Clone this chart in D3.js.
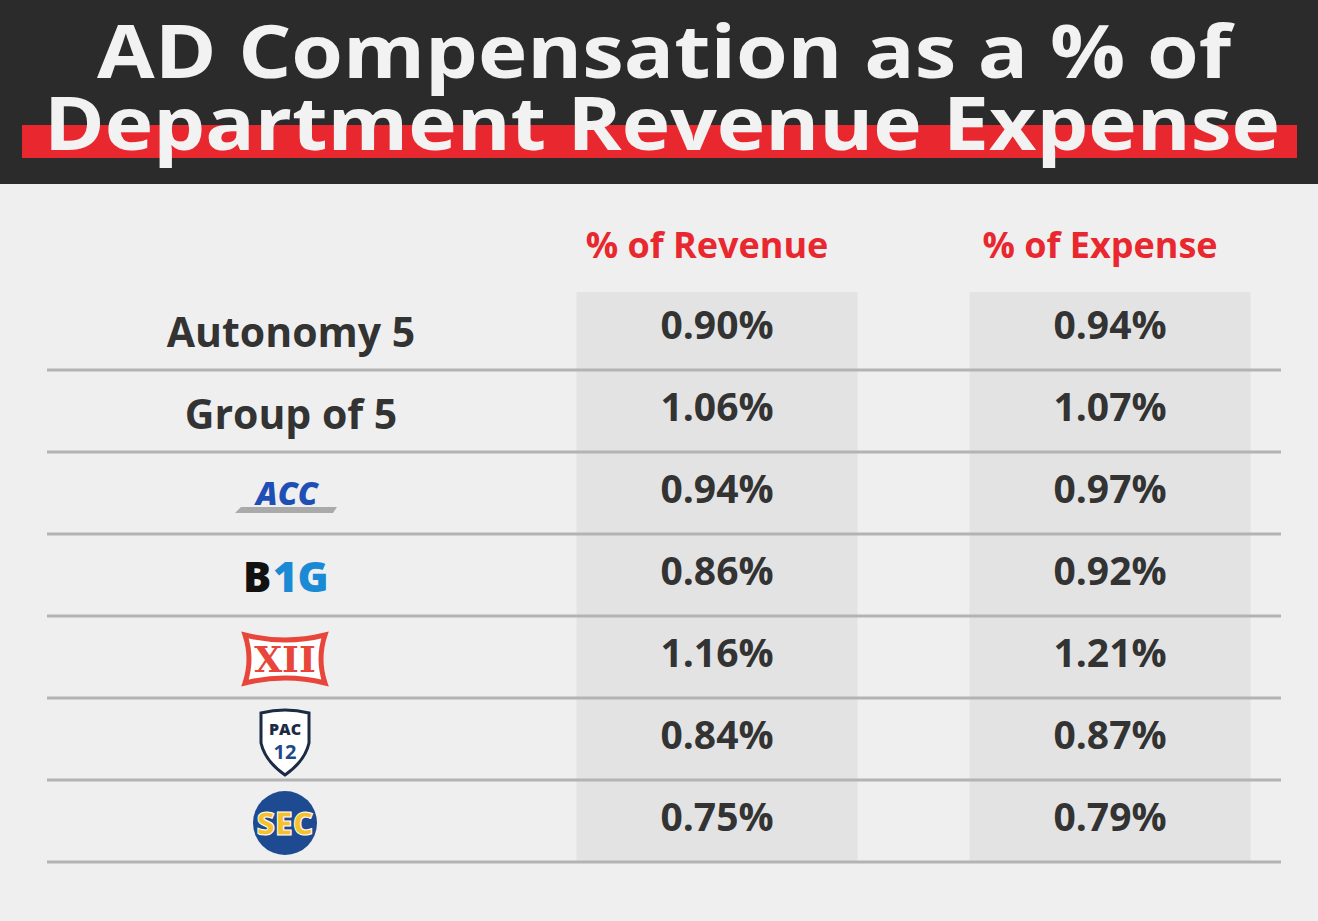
<!DOCTYPE html><html><head><meta charset="utf-8">
<script src="https://cdn.jsdelivr.net/npm/d3@7"></script>
<style>body{margin:0;background:#efefef} text{font-variant-ligatures:none}</style></head><body>
<script>
const titleLines = ["AD Compensation as a % of", "Department Revenue Expense"];
const columns = ["% of Revenue", "% of Expense"];
const categories = ["Autonomy 5", "Group of 5", "ACC", "B1G", "XII", "PAC12", "SEC"];
const revenue = [0.90, 1.06, 0.94, 0.86, 1.16, 0.84, 0.75];
const expense = [0.94, 1.07, 0.97, 0.92, 1.21, 0.87, 0.79];

const W = 1318, H = 921;
const svg = d3.select("body").append("svg").attr("width", W).attr("height", H);
svg.append("rect").attr("width", W).attr("height", H).attr("fill", "#efefef");
svg.append("rect").attr("width", W).attr("height", 184).attr("fill", "#2b2b2b");
svg.append("rect").attr("x", 22).attr("y", 125).attr("width", 1275).attr("height", 33).attr("fill", "#e8282e");
const tf = "'Open Sans', Lato, sans-serif";
svg.append("text").attr("x", 664).attr("y", 78).attr("text-anchor", "middle").attr("font-family", tf)
  .attr("font-weight", 700).attr("font-size", 74).attr("fill", "#f2f2f2")
  .attr("textLength", 1134).attr("lengthAdjust", "spacingAndGlyphs").text(titleLines[0]);
svg.append("text").attr("x", 662).attr("y", 150).attr("text-anchor", "middle").attr("font-family", tf)
  .attr("font-weight", 700).attr("font-size", 74).attr("fill", "#f2f2f2")
  .attr("textLength", 1236).attr("lengthAdjust", "spacingAndGlyphs").text(titleLines[1]);

const x = d3.scalePoint().domain(columns).range([717, 1110]);
const y = d3.scaleBand().domain(categories).range([288, 862]);
const colW = 281;

columns.forEach(c => {
  svg.append("rect").attr("x", x(c) - colW / 2).attr("y", 292).attr("width", colW).attr("height", 570).attr("fill", "#e3e3e3");
  svg.append("text").attr("x", x(c) - 10).attr("y", 258).attr("text-anchor", "middle").attr("font-family", tf)
    .attr("font-weight", 700).attr("font-size", 36).attr("fill", "#e8282e").text(c);
});

categories.forEach((c, i) => {
  const y0 = y(c), bw = y.bandwidth();
  svg.append("line").attr("x1", 47).attr("x2", 1281).attr("y1", y0 + bw).attr("y2", y0 + bw)
    .attr("stroke", "#b3b3b3").attr("stroke-width", 3);
  [revenue[i], expense[i]].forEach((v, j) => {
    svg.append("text").attr("x", x(columns[j])).attr("y", y0 + 51).attr("text-anchor", "middle")
      .attr("font-family", tf).attr("font-weight", 700).attr("font-size", 39).attr("fill", "#333")
      .text(v.toFixed(2) + "%");
  });
  const cx = 285, cy = y0 + bw / 2 + 2;
  const g = svg.append("g").attr("transform", `translate(${cx},${cy})`);
  if (i < 2) {
    svg.append("text").attr("x", 291).attr("y", y0 + 59).attr("text-anchor", "middle").attr("font-family", tf)
      .attr("font-weight", 700).attr("font-size", 41).attr("fill", "#333").text(c);
  } else if (c === "ACC") {
    g.append("path").attr("d", "M-50,18 L48,18 L52,12 L-44,12Z").attr("fill", "#aaa");
    g.append("text").attr("x", 2).attr("y", 10).attr("text-anchor", "middle").attr("font-family", tf)
      .attr("font-style", "italic").attr("font-weight", 800).attr("font-size", 32).attr("fill", "#1f4fb5").text("ACC");
  } else if (c === "B1G") {
    g.append("text").attr("x", -42).attr("y", 15).attr("font-family", tf).attr("font-weight", 800)
      .attr("font-size", 42).attr("fill", "#111").text("B");
    g.append("text").attr("x", -12).attr("y", 15).attr("font-family", tf).attr("font-weight", 800)
      .attr("font-size", 42).attr("fill", "#1a8ad4").text("1G");
  } else if (c === "XII") {
    g.append("path").attr("d", "M-40,-24 Q0,-14 40,-24 Q32,0 40,24 Q0,14 -40,24 Q-32,0 -40,-24Z")
      .attr("fill", "#fff").attr("stroke", "#e8463a").attr("stroke-width", 5);
    g.append("text").attr("x", 0).attr("y", 13).attr("text-anchor", "middle").attr("font-family", "DejaVu Serif")
      .attr("font-weight", 700).attr("font-size", 36).attr("fill", "#e8463a").text("XII");
  } else if (c === "PAC12") {
    g.append("path").attr("d", "M-24,-28 Q0,-34 24,-28 L24,2 Q20,20 0,34 Q-20,20 -24,2Z")
      .attr("fill", "#fff").attr("stroke", "#1c2b44").attr("stroke-width", 3);
    g.append("text").attr("x", 0).attr("y", -6).attr("text-anchor", "middle").attr("font-family", tf)
      .attr("font-weight", 800).attr("font-size", 16).attr("fill", "#1c2b44").text("PAC");
    g.append("text").attr("x", 0).attr("y", 18).attr("text-anchor", "middle").attr("font-family", tf)
      .attr("font-weight", 700).attr("font-size", 20).attr("fill", "#1c4a8a").text("12");
  } else if (c === "SEC") {
    g.append("circle").attr("r", 32).attr("fill", "#1d4a91");
    g.append("text").attr("x", 0).attr("y", 12).attr("text-anchor", "middle").attr("font-family", tf)
      .attr("font-weight", 800).attr("font-size", 32).attr("fill", "#f5c12e").attr("stroke", "#fff")
      .attr("stroke-width", 1).text("SEC");
  }
});
</script></body></html>
